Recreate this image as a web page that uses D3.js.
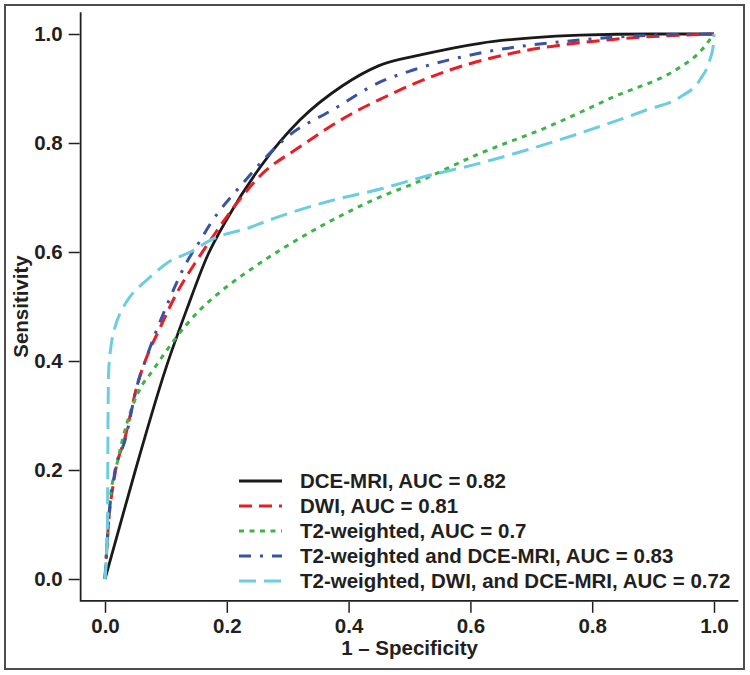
<!DOCTYPE html>
<html><head><meta charset="utf-8">
<script src="https://cdn.jsdelivr.net/npm/d3@7"></script>
<style>body{margin:0;background:#fff}svg text{font-family:"Liberation Sans",Arial,sans-serif;font-weight:bold;fill:#231f20}</style>
</head><body><svg id="c" width="750" height="675"></svg>
<script>
const xTicks = [0, 0.2, 0.4, 0.6, 0.8, 1.0];
const yTicks = [0, 0.2, 0.4, 0.6, 0.8, 1.0];
const seriesNames = ["DCE-MRI, AUC = 0.82","DWI, AUC = 0.81","T2-weighted, AUC = 0.7","T2-weighted and DCE-MRI, AUC = 0.83","T2-weighted, DWI, and DCE-MRI, AUC = 0.72"];
const dceMri = [[0,0],[0.02,0.08],[0.05,0.2],[0.1,0.387],[0.135,0.497],[0.169,0.595],[0.2,0.66],[0.255,0.756],[0.32,0.842],[0.39,0.905],[0.45,0.942],[0.52,0.962],[0.616,0.983],[0.7,0.993],[0.78,0.998],[0.9,1.0],[1,1]];
const dwi = [[0,0],[0.005,0.09],[0.016,0.19],[0.033,0.26],[0.054,0.36],[0.066,0.40],[0.09,0.46],[0.118,0.525],[0.151,0.585],[0.177,0.628],[0.21,0.68],[0.255,0.74],[0.32,0.793],[0.407,0.855],[0.457,0.883],[0.506,0.908],[0.561,0.932],[0.67,0.965],[0.834,0.99],[1,1]];
const t2 = [[0,0],[0.003,0.053],[0.008,0.139],[0.021,0.218],[0.036,0.286],[0.054,0.341],[0.08,0.385],[0.11,0.433],[0.156,0.494],[0.184,0.522],[0.238,0.567],[0.3,0.612],[0.374,0.659],[0.452,0.701],[0.506,0.725],[0.616,0.781],[0.726,0.829],[0.834,0.884],[0.944,0.939],[0.975,0.965],[1,1]];
const t2Dce = [[0,0],[0.005,0.095],[0.016,0.195],[0.033,0.255],[0.054,0.36],[0.066,0.40],[0.103,0.506],[0.136,0.585],[0.153,0.615],[0.172,0.65],[0.227,0.727],[0.299,0.811],[0.374,0.861],[0.452,0.912],[0.506,0.934],[0.616,0.965],[0.78,0.989],[0.9,0.998],[1,1]];
const t2DwiDce = [[0,0],[0.004,0.1],[0.005,0.3],[0.006,0.38],[0.009,0.42],[0.012,0.442],[0.018,0.468],[0.025,0.488],[0.035,0.508],[0.046,0.525],[0.06,0.54],[0.074,0.554],[0.102,0.58],[0.14,0.6],[0.177,0.624],[0.238,0.645],[0.266,0.657],[0.374,0.695],[0.457,0.717],[0.517,0.736],[0.616,0.763],[0.78,0.818],[0.89,0.861],[0.944,0.884],[0.977,0.916],[0.993,0.952],[0.999,0.98],[1,1]];

const series = [
  {name: seriesNames[0], data: dceMri, color: "#1a1a1a", dash: null, w: 2.8},
  {name: seriesNames[1], data: dwi, color: "#ed1c24", dash: "13,7", w: 3},
  {name: seriesNames[2], data: t2, color: "#3cb44a", dash: "5,5.5", w: 3},
  {name: seriesNames[3], data: t2Dce, color: "#3953a4", dash: "12,9,3,9", w: 3},
  {name: seriesNames[4], data: t2DwiDce, color: "#6dcde0", dash: "17,8", w: 3}
];

const svg = d3.select("#c");
const x = d3.scaleLinear().domain([0,1]).range([105,714]);
const y = d3.scaleLinear().domain([0,1]).range([579,34]);
const fs = 20.5;

svg.append("rect").attr("x",5).attr("y",5).attr("width",739).attr("height",664)
  .attr("fill","none").attr("stroke","#4d4d4d").attr("stroke-width",2);

svg.append("path").attr("d",`M${x(-0.04)},${y(1.04)}V${y(-0.04)}H${x(1.04)}`)
  .attr("fill","none").attr("stroke","#231f20").attr("stroke-width",1.8);

const gx = svg.append("g").attr("transform",`translate(0,${y(-0.04)+1})`)
  .call(d3.axisBottom(x).tickValues(xTicks).tickFormat(d3.format(".1f")).tickSize(11).tickPadding(6));
gx.select(".domain").remove();
gx.selectAll("line").attr("stroke","#231f20").attr("stroke-width",1.5);
gx.selectAll("text").attr("font-size",fs).attr("font-family","Liberation Sans, Arial, sans-serif").attr("fill","#231f20");

const gy = svg.append("g").attr("transform",`translate(${x(-0.04)-1},0)`)
  .call(d3.axisLeft(y).tickValues(yTicks).tickFormat(d3.format(".1f")).tickSize(11).tickPadding(6));
gy.select(".domain").remove();
gy.selectAll("line").attr("stroke","#231f20").attr("stroke-width",1.5);
gy.selectAll("text").attr("font-size",fs).attr("font-family","Liberation Sans, Arial, sans-serif").attr("fill","#231f20");

svg.append("text").attr("x",x(0.5)).attr("y",655).attr("text-anchor","middle").attr("font-size",fs).text("1 – Specificity");
svg.append("text").attr("transform",`translate(28,${y(0.5)}) rotate(-90)`).attr("text-anchor","middle").attr("font-size",fs).text("Sensitivity");

const line = d3.line().x(d=>x(d[0])).y(d=>y(d[1])).curve(d3.curveMonotoneX);
series.forEach(s=>{
  svg.append("path").datum(s.data).attr("d",line).attr("fill","none")
    .attr("stroke",s.color).attr("stroke-width",s.w).attr("stroke-dasharray",s.dash);
});

const lg = svg.append("g");
series.forEach((s,i)=>{
  const cy = 481 + i*25;
  lg.append("line").attr("x1",239).attr("x2",282).attr("y1",cy).attr("y2",cy)
    .attr("stroke",s.color).attr("stroke-width",s.w).attr("stroke-dasharray",s.dash);
  lg.append("text").attr("x",300).attr("y",cy+7).attr("font-size",fs).text(s.name);
});
</script></body></html>
